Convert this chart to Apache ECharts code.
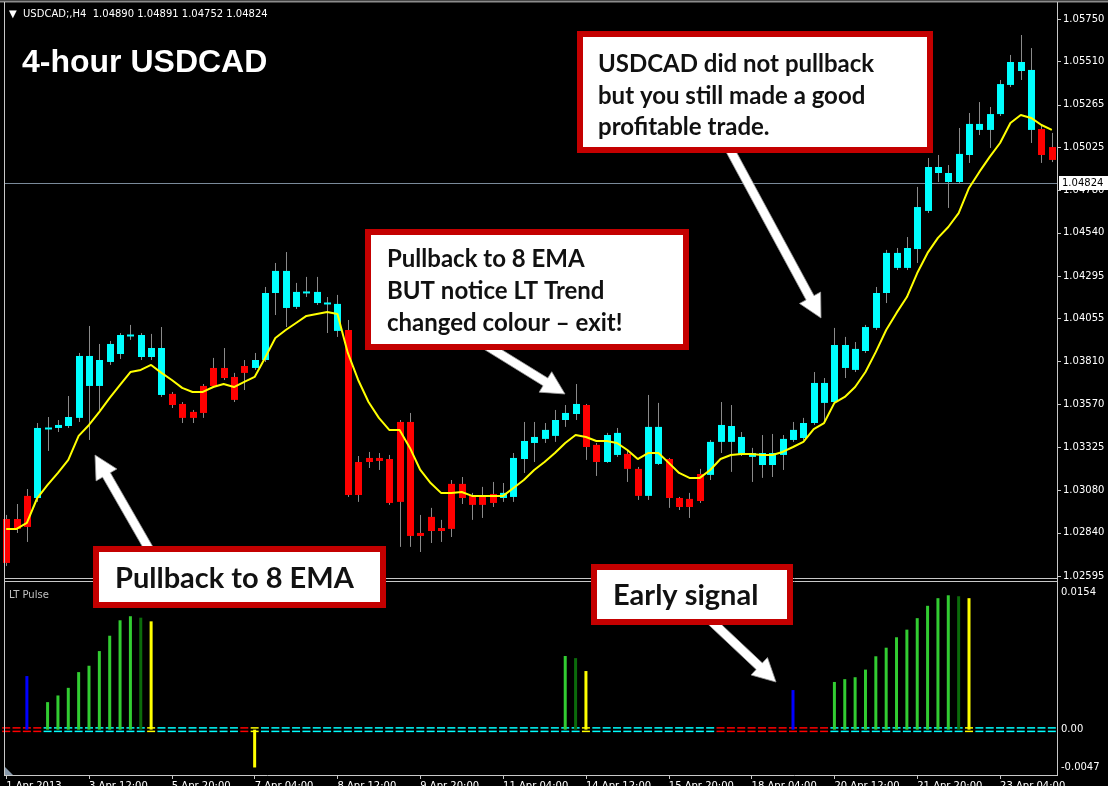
<!DOCTYPE html>
<html><head><meta charset="utf-8">
<script src="https://cdn.jsdelivr.net/npm/echarts@6/dist/echarts.min.js"></script>
<style>html,body{margin:0;padding:0;background:#000;}#c{width:1108px;height:786px;}</style>
</head><body><div id="c"></div>
<script>
// ---------- DATA ----------
const opens = [1.02918,1.02918,1.03049,1.03037,1.03428,1.03434,1.03445,1.03491,1.03672,1.03672,
1.03808,1.03853,1.03955,1.03836,1.03836,1.03621,1.03627,1.03570,1.03525,1.03672,
1.03774,1.03774,1.03723,1.03785,1.03774,1.03819,1.04199,1.04114,1.04120,1.04199,
1.04142,1.04137,1.03984,1.03989,1.03241,1.03264,1.03264,1.03258,1.03468,1.03468,
1.02839,1.02930,1.02867,1.03117,1.03117,1.03054,1.03054,1.03060,1.03037,1.03043,
1.03258,1.03349,1.03372,1.03389,1.03479,1.03513,1.03564,1.03338,1.03241,1.03281,
1.03287,1.03202,1.03049,1.03230,1.03258,1.03037,1.03032,1.03173,1.03168,1.03355,
1.03355,1.03287,1.03270,1.03224,1.03224,1.03281,1.03366,1.03377,1.03462,1.03576,
1.03581,1.03774,1.03763,1.03870,1.04001,1.04199,1.04341,1.04341,1.04448,1.04664,
1.04879,1.04828,1.04828,1.04981,1.05123,1.05123,1.05213,1.05378,1.05457,1.05123,
1.05128,1.05026];
const highs = [1.02941,1.03003,1.03088,1.03462,1.03496,1.03479,1.03615,1.03859,1.04012,1.03910,
1.03927,1.03972,1.04018,1.03972,1.03967,1.04006,1.03638,1.03581,1.03536,1.03683,
1.03831,1.03887,1.03746,1.03819,1.03859,1.04233,1.04369,1.04431,1.04256,1.04290,
1.04290,1.04176,1.04188,1.04046,1.03275,1.03298,1.03292,1.03281,1.03479,1.03519,
1.02941,1.02981,1.02913,1.03139,1.03156,1.03066,1.03100,1.03128,1.03122,1.03292,
1.03468,1.03468,1.03462,1.03536,1.03564,1.03683,1.03570,1.03349,1.03406,1.03434,
1.03309,1.03213,1.03621,1.03576,1.03264,1.03043,1.03066,1.03202,1.03366,1.03581,
1.03564,1.03411,1.03321,1.03394,1.03400,1.03394,1.03468,1.03491,1.03751,1.03717,
1.04001,1.03950,1.03921,1.04018,1.04233,1.04443,1.04454,1.04516,1.04800,1.04964,
1.04981,1.04924,1.05134,1.05219,1.05281,1.05253,1.05406,1.05548,1.05661,1.05587,
1.05151,1.05106];
const lows = [1.02652,1.02839,1.02788,1.03015,1.03304,1.03411,1.03434,1.03468,1.03366,1.03536,
1.03791,1.03825,1.03933,1.03819,1.03819,1.03610,1.03547,1.03462,1.03462,1.03491,
1.03661,1.03706,1.03581,1.03649,1.03763,1.03808,1.04074,1.04006,1.04108,1.04176,
1.04131,1.03972,1.03950,1.03043,1.03015,1.03207,1.03196,1.02998,1.02760,1.02760,
1.02731,1.02782,1.02788,1.02816,1.03003,1.02913,1.02924,1.02986,1.03015,1.03015,
1.03179,1.03241,1.03349,1.03355,1.03440,1.03479,1.03253,1.03162,1.03236,1.03270,
1.03128,1.03026,1.03026,1.03224,1.02981,1.02969,1.02924,1.03009,1.03139,1.03292,
1.03185,1.03275,1.03128,1.03151,1.03156,1.03196,1.03355,1.03366,1.03451,1.03468,
1.03570,1.03717,1.03751,1.03859,1.03989,1.04142,1.04329,1.04329,1.04369,1.04652,
1.04828,1.04681,1.04817,1.04936,1.05094,1.05021,1.05202,1.05366,1.05406,1.05049,
1.04936,1.04941];
const closes = [1.02669,1.02862,1.02873,1.03434,1.03434,1.03451,1.03496,1.03842,1.03842,1.03819,
1.03910,1.03961,1.03961,1.03961,1.03887,1.03887,1.03564,1.03491,1.03491,1.03519,
1.03672,1.03717,1.03593,1.03746,1.03819,1.04199,1.04324,1.04324,1.04205,1.04205,
1.04205,1.04142,1.04137,1.03054,1.03054,1.03241,1.03247,1.03009,1.03015,1.02822,
1.02822,1.02850,1.02850,1.02862,1.03037,1.02998,1.02998,1.03009,1.03066,1.03264,
1.03360,1.03383,1.03423,1.03479,1.03519,1.03570,1.03326,1.03241,1.03394,1.03406,
1.03202,1.03049,1.03440,1.03440,1.03037,1.02986,1.02986,1.03020,1.03355,1.03451,
1.03445,1.03383,1.03292,1.03292,1.03292,1.03372,1.03423,1.03462,1.03689,1.03689,
1.03904,1.03904,1.03882,1.04006,1.04199,1.04426,1.04426,1.04454,1.04686,1.04913,
1.04913,1.04879,1.04987,1.05157,1.05157,1.05213,1.05383,1.05508,1.05508,1.05463,
1.04981,1.04953];
const ema8 = [1.02862,1.02862,1.02896,1.03037,1.03111,1.03179,1.03253,1.03389,1.03451,1.03525,
1.03604,1.03678,1.03751,1.03763,1.03791,1.03746,1.03706,1.03661,1.03638,1.03638,
1.03666,1.03683,1.03666,1.03695,1.03723,1.03831,1.03944,1.03989,1.04029,1.04069,
1.04080,1.04091,1.04080,1.03859,1.03706,1.03581,1.03491,1.03423,1.03423,1.03321,
1.03196,1.03122,1.03066,1.03066,1.03071,1.03049,1.03049,1.03049,1.03049,1.03094,
1.03139,1.03196,1.03241,1.03292,1.03349,1.03394,1.03383,1.03360,1.03360,1.03349,
1.03309,1.03258,1.03292,1.03292,1.03236,1.03179,1.03151,1.03151,1.03196,1.03258,
1.03281,1.03287,1.03287,1.03281,1.03281,1.03298,1.03326,1.03355,1.03428,1.03462,
1.03576,1.03610,1.03666,1.03751,1.03865,1.03989,1.04086,1.04176,1.04312,1.04426,
1.04511,1.04573,1.04652,1.04794,1.04885,1.04970,1.05049,1.05162,1.05208,1.05191,
1.05151,1.05123];
const lastPrice = 1.04824;
// LT Pulse histogram (null = no bar) and its colour codes: b blue, g green, d dark green, y yellow
const pulse = [null,null,0.00555,null,0.00285,0.00354,0.00433,0.00596,0.00662,0.00814,
0.00973,0.01133,0.01175,0.0116,0.01122,null,null,null,null,null,
null,null,null,null,-0.00392,null,null,null,null,null,
null,null,null,null,null,null,null,null,null,null,
null,null,null,null,null,null,null,null,null,null,
null,null,null,null,0.00763,0.00741,0.00607,null,null,null,
null,null,null,null,null,null,null,null,null,null,
null,null,null,null,null,null,0.0041,null,null,null,
0.00494,0.00523,0.00543,0.00622,0.0076,0.00849,0.00957,0.01036,0.01155,0.01283,
0.01362,0.01392,0.01382,0.01362,null,null,null,null,null,null,
null,null];
const pulseColour = ['','','b','','g','g','g','g','g','g',
'g','g','g','d','y','','','','','',
'','','','','y','','','','','',
'','','','','','','','','','',
'','','','','','','','','','',
'','','','','g','d','y','','','',
'','','','','','','','','','',
'','','','','','','b','','','',
'g','g','g','g','g','g','g','g','g','g',
'g','g','d','y','','','','','','',
'',''];
// zero-line state per bar: r red, c cyan, y yellow
const trendState = ['r','r','r','r','c','c','c','c','c','c',
'c','c','c','c','y','c','c','c','c','c',
'c','c','c','r','y','c','c','c','c','c',
'c','c','c','c','c','c','c','c','c','c',
'c','c','c','c','c','c','c','c','c','c',
'c','c','c','c','c','c','y','c','c','c',
'c','c','c','c','c','c','c','c','c','r',
'r','r','r','r','r','r','r','r','r','r',
'c','c','c','c','c','c','c','c','c','c',
'c','c','c','y','c','c','c','c','c','c',
'c','c'];
const priceTicks = [1.02595,1.02840,1.03080,1.03325,1.03570,1.03810,1.04055,1.04295,1.04540,1.04780,1.05025,1.05265,1.05510,1.05750];
const pulseTicks = [-0.0047, 0, 0.0154];
const timeLabels = ['1 Apr 2013','3 Apr 12:00','5 Apr 20:00','7 Apr 04:00','8 Apr 12:00','9 Apr 20:00','11 Apr 04:00','14 Apr 12:00','15 Apr 20:00','18 Apr 04:00','20 Apr 12:00','21 Apr 20:00','23 Apr 04:00'];

// ---------- BUILD ----------
const FONT = 'DejaVu Sans';
const cats = opens.map((_, i) => String(i));
const candleData = opens.map((o, i) => [i, o, closes[i], lows[i], highs[i]]);
const colourOf = {b:'#0000ff', g:'#32cd32', d:'#0b6b0b', y:'#ffff00'};
const dashCol = {r:'#ff0000', c:'#00ffff', y:'#ffff00'};
const stateCodes = ['r','c','y'];
const dashData = trendState.map((s, i) => [i, stateCodes.indexOf(s)]);
const pulseData = pulse.map((v, i) => v === null ? null : {value: v, itemStyle: {color: colourOf[pulseColour[i]]}});

function renderCandle(params, api) {
  const i = api.value(0), o = api.value(1), c = api.value(2), l = api.value(3), h = api.value(4);
  const pO = api.coord([i, o]), pC = api.coord([i, c]), pL = api.coord([i, l]), pH = api.coord([i, h]);
  const x = Math.round(pO[0]);
  const col = c >= o ? '#00ffff' : '#ff0000';
  let top = Math.min(pO[1], pC[1]), bot = Math.max(pO[1], pC[1]);
  if (bot - top < 2) { const m = (top + bot) / 2; top = m - 1; bot = m + 1; }
  return {type: 'group', children: [
    {type: 'line', shape: {x1: x + 0.5, y1: pH[1], x2: x + 0.5, y2: pL[1]}, style: {stroke: '#8a8a8a', lineWidth: 1}},
    {type: 'rect', shape: {x: x - 3, y: top, width: 7, height: bot - top}, style: {fill: col}}
  ]};
}
function renderPriceLine(params, api) {
  const cs = params.coordSys;
  const v = api.value(1);
  const y = Math.round(api.coord([0, v])[1]) + 0.5;
  const xr = cs.x + cs.width;
  return {type: 'group', children: [
    {type: 'line', shape: {x1: cs.x + 4, y1: y, x2: xr, y2: y}, style: {stroke: '#7a8a9a', lineWidth: 1}},
    {type: 'rect', shape: {x: xr + 2, y: y - 7.5, width: 50, height: 14}, style: {fill: '#ffffff'}},
    {type: 'text', x: xr + 5, y: y, style: {text: v.toFixed(5), fill: '#000000', font: '10px "DejaVu Sans"', verticalAlign: 'middle'}}
  ]};
}
function renderDash(params, api) {
  const i = api.value(0), s = stateCodes[api.value(1)];
  const p = api.coord([i, 0]);
  const col = dashCol[s];
  return {type: 'group', children: [
    {type: 'rect', shape: {x: p[0] - 4, y: p[1] - 2.5, width: 8, height: 1.5}, style: {fill: col}},
    {type: 'rect', shape: {x: p[0] - 4, y: p[1] + 1, width: 8, height: 1.5}, style: {fill: col}}
  ]};
}
function arrowPts(x1, y1, x2, y2, sw, hw, hl) {
  const dx = x2 - x1, dy = y2 - y1, L = Math.hypot(dx, dy), ux = dx / L, uy = dy / L, nx = -uy, ny = ux;
  const bx = x2 - ux * hl, by = y2 - uy * hl;
  return [[x1 + nx * sw, y1 + ny * sw], [bx + nx * sw, by + ny * sw], [bx + nx * hw, by + ny * hw], [x2, y2],
          [bx - nx * hw, by - ny * hw], [bx - nx * sw, by - ny * sw], [x1 - nx * sw, y1 - ny * sw]];
}
function arrow(x1, y1, x2, y2) {
  return {type: 'polygon', z: 100, shape: {points: arrowPts(x1, y1, x2, y2, 4.5, 12, 23)}, style: {fill: '#ffffff', stroke: '#9a9a9a', lineWidth: 0.8}};
}
function box(x, y, w, h) {
  return {type: 'rect', z: 101, shape: {x: x + 3, y: y + 3, width: w - 6, height: h - 6}, style: {fill: '#ffffff', stroke: '#c40000', lineWidth: 6}};
}
function txt(x, y, s, size) {
  return {type: 'text', z: 102, x: x, y: y, style: {text: s, fill: '#111', font: 'bold ' + size + 'px Lato', align: 'left', verticalAlign: 'middle'}};
}
function hline(x1, x2, y, col, w) { return {type: 'line', z: 50, shape: {x1: x1, y1: y, x2: x2, y2: y}, style: {stroke: col, lineWidth: w || 1}}; }
function vline(x, y1, y2, col, w) { return {type: 'line', z: 50, shape: {x1: x, y1: y1, x2: x, y2: y2}, style: {stroke: col, lineWidth: w || 1}}; }

const FRAME = '#c8c8c8';
const option = {
  backgroundColor: '#000000',
  animation: false,
  grid: [
    {left: 1, width: 1056, top: 19.3, height: 556.7, outerBoundsMode: 'none', containLabel: false},
    {left: 1, width: 1056, top: 581, height: 194, outerBoundsMode: 'none', containLabel: false}
  ],
  xAxis: [
    {type: 'category', gridIndex: 0, data: cats, boundaryGap: true, show: false, axisLine: {onZero: false}},
    {type: 'category', gridIndex: 1, data: cats, boundaryGap: true, position: 'bottom',
     axisLine: {show: false, onZero: false},
     axisTick: {show: true, alignWithLabel: true, interval: 7, length: 4, lineStyle: {color: FRAME}},
     axisLabel: {interval: 7, color: '#ffffff', fontFamily: FONT, fontSize: 10, align: 'left', margin: 6,
                 formatter: (v, idx) => timeLabels[Math.round(idx / 8)] || ''},
     splitLine: {show: false}}
  ],
  yAxis: [
    {type: 'value', gridIndex: 0, position: 'right', min: priceTicks[0], max: priceTicks[priceTicks.length - 1],
     splitLine: {show: false}, axisLine: {show: false},
     axisTick: {show: true, length: 4, lineStyle: {color: FRAME}, customValues: priceTicks},
     axisLabel: {color: '#ffffff', fontFamily: FONT, fontSize: 10, margin: 6, customValues: priceTicks,
                 formatter: v => v.toFixed(5)}},
    {type: 'value', gridIndex: 1, position: 'right', min: pulseTicks[0], max: pulseTicks[2],
     splitLine: {show: false}, axisLine: {show: false}, axisTick: {show: false},
     axisLabel: {color: '#ffffff', fontFamily: FONT, fontSize: 10, margin: 4, customValues: pulseTicks,
                 formatter: v => v === 0 ? '{z|0.00}' : (v > 0 ? '{t|' + v.toFixed(4) + '}' : '{b|' + v.toFixed(4) + '}'),
                 rich: {z: {color: '#fff', fontFamily: FONT, fontSize: 10},
                        t: {color: '#fff', fontFamily: FONT, fontSize: 10, padding: [22, 0, 0, 0]},
                        b: {color: '#fff', fontFamily: FONT, fontSize: 10, padding: [0, 0, 16, 0]}}}}
  ],
  series: [
    {type: 'custom', name: 'candles', xAxisIndex: 0, yAxisIndex: 0, renderItem: renderCandle,
     encode: {x: 0, y: [1, 2, 3, 4]}, data: candleData, z: 2},
    {type: 'custom', name: 'last price', xAxisIndex: 0, yAxisIndex: 0, renderItem: renderPriceLine,
     encode: {x: 0, y: 1}, data: [[0, lastPrice]], clip: false, z: 1},
    {type: 'line', name: 'EMA 8', xAxisIndex: 0, yAxisIndex: 0, data: ema8, symbol: 'none', z: 3,
     lineStyle: {color: '#ffff00', width: 2}},
    {type: 'custom', name: 'zero', xAxisIndex: 1, yAxisIndex: 1, renderItem: renderDash,
     encode: {x: 0, y: 1}, data: dashData, z: 2},
    {type: 'bar', name: 'LT Pulse', xAxisIndex: 1, yAxisIndex: 1, data: pulseData, barWidth: 3, z: 3}
  ],
  graphic: [
    hline(0, 1108, 1.5, '#8c8c8c', 2),
    vline(4.5, 2, 776, FRAME),
    vline(1057.5, 2, 776, FRAME),
    hline(4, 1058, 578.5, FRAME),
    hline(4, 1058, 581.5, FRAME),
    hline(4, 1058, 775.5, FRAME),
    {type: 'polygon', z: 51, shape: {points: [[5, 767], [5, 775], [13, 775]]}, style: {fill: '#8899aa'}},
    {type: 'text', z: 60, x: 9, y: 14, style: {text: '\u25BC  USDCAD;,H4  1.04890 1.04891 1.04752 1.04824', fill: '#ffffff', font: '10px "DejaVu Sans"', verticalAlign: 'middle'}},
    {type: 'text', z: 60, x: 22, y: 63, style: {text: '4-hour USDCAD', fill: '#ffffff', font: 'bold 32px "Liberation Sans"', verticalAlign: 'middle'}},
    {type: 'text', z: 60, x: 9, y: 595, style: {text: 'LT Pulse', fill: '#c0c0c0', font: '10px "DejaVu Sans"', verticalAlign: 'middle'}},
    arrow(153, 556, 95, 455),
    arrow(484, 344, 565, 394),
    arrow(728, 146, 821, 318),
    arrow(708, 618, 776, 682),
    box(93, 546, 293, 62),
    box(365, 229, 324, 121),
    box(577, 31, 356, 122),
    box(591, 564, 202, 61),
    txt(115, 579, 'Pullback to 8 EMA', 29),
    txt(387, 259, 'Pullback to 8 EMA', 24),
    txt(387, 291, 'BUT notice LT Trend', 24),
    txt(387, 323, 'changed colour \u2013 exit!', 24),
    txt(598, 64, 'USDCAD did not pullback', 24),
    txt(598, 96, 'but you still made a good', 24),
    txt(598, 127, 'profitable trade.', 24),
    txt(613, 596, 'Early signal', 29)
  ]
};
const chart = echarts.init(document.getElementById('c'));
chart.setOption(option);
</script>
</body></html>
